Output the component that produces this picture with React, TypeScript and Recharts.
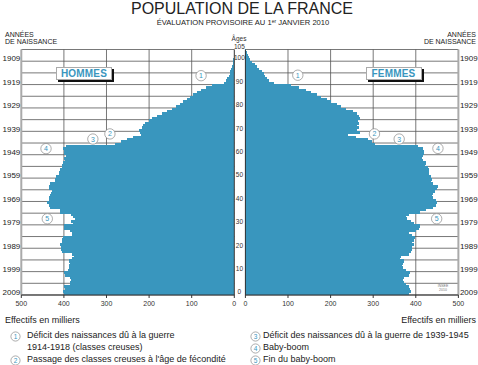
import { BarChart, Bar, XAxis, YAxis, CartesianGrid, ReferenceLine, ReferenceDot } from 'recharts';

// effectifs en milliers, par âge révolu (0 à 104 ans) au 1er janvier 2010
const hommes = [
  400, 401, 398, 400, 386, 385, 384, 386, 397, 399,
  390, 388, 387, 386, 388, 380, 376, 382, 405, 407,
  406, 408, 405, 404, 402, 382, 380, 385, 400, 400,
  378, 383, 375, 378, 383, 408, 410, 432, 435, 440,
  436, 435, 433, 430, 428, 434, 436, 433, 422, 420,
  418, 412, 411, 410, 405, 405, 403, 398, 400, 395,
  400, 399, 402, 396, 280, 265, 252, 238, 218, 222,
  224, 216, 214, 210, 200, 194, 182, 170, 157, 147,
  137, 127, 120, 112, 104, 96, 88, 77, 66, 52,
  25, 20, 16, 13, 11, 9, 7, 5, 4, 3,
  2, 1.5, 1, 0.6, 0.4,
];

const femmes = [
  385, 388, 387, 385, 378, 372, 370, 372, 384, 386,
  378, 370, 368, 370, 372, 362, 365, 385, 388, 390,
  392, 395, 390, 396, 398, 390, 385, 400, 408, 410,
  395, 388, 380, 378, 385, 410, 425, 440, 448, 450,
  448, 440, 438, 440, 445, 450, 452, 440, 435, 437,
  435, 432, 430, 430, 428, 422, 425, 418, 415, 418,
  420, 420, 418, 405, 305, 298, 288, 260, 242, 268,
  262, 267, 262, 267, 264, 268, 267, 262, 253, 237,
  225, 214, 202, 192, 178, 167, 155, 143, 127, 108,
  66, 55, 51, 47, 43, 38, 33, 28, 22, 16,
  11, 8, 5, 3, 2,
];

const xTicks = [0, 100, 200, 300, 400, 500];
const gridX = [100, 200, 300, 400];
const gridAges = [0, 5, 10, 15, 20, 25, 30, 35, 40, 45, 50, 55, 60, 65, 70, 75, 80, 85, 90, 95, 100, 105];
const yearTicks = [0, 10, 20, 30, 40, 50, 60, 70, 80, 90, 100];
const ageTicks = [0, 10, 20, 30, 40, 50, 60, 70, 80, 90, 100, 105];

// repères numérotés (valeur, âge)
const notesHommes = [
  { n: '1', value: 78, age: 93.8 },
  { n: '2', value: 292, age: 68.9 },
  { n: '3', value: 332, age: 66.7 },
  { n: '4', value: 442, age: 62.6 },
  { n: '5', value: 439, age: 32.6 },
];
const notesFemmes = [
  { n: '1', value: 123, age: 94.0 },
  { n: '2', value: 303, age: 68.9 },
  { n: '3', value: 361, age: 66.7 },
  { n: '4', value: 452, age: 62.7 },
  { n: '5', value: 449, age: 32.6 },
];

const legende = [
  { n: '1', lines: ['Déficit des naissances dû à la guerre', '1914-1918 (classes creuses)'] },
  { n: '2', lines: ['Passage des classes creuses à l\'âge de fécondité'] },
  { n: '3', lines: ['Déficit des naissances dû à la guerre de 1939-1945'] },
  { n: '4', lines: ['Baby-boom'] },
  { n: '5', lines: ['Fin du baby-boom'] },
];

const FONT = '"Liberation Sans", Arial, Helvetica, sans-serif';
const BLUE = '#3996be';
const GRID = '#555';

const CHART_H = 320;
const TOP = 49.5;
const X_AXIS_H = 25;
// just under one year band: recharts keeps a fractional barSize only when it is below the band
const BAR_H = (CHART_H - TOP - X_AXIS_H) / 105 - 0.01;

const menRows = hommes.map((value, age) => ({ age, mid: age + 0.5, value }));
const womenRows = femmes.map((value, age) => ({ age, mid: age + 0.5, value }));

// plain rect, slightly overlapping its neighbours so no light seams appear
function AgeBar(p: any) {
  const x = Math.min(p.x, p.x + p.width);
  const w = Math.abs(p.width);
  const y = Math.min(p.y, p.y + p.height);
  const h = Math.abs(p.height);
  if (!w) return <g />;
  return <rect x={x} y={y - 0.45} width={w} height={h + 0.9} fill={BLUE} shapeRendering="crispEdges" />;
}

function YearTick({ x, y, payload, side }: any) {
  return (
    <text
      x={side === 'left' ? x - 1 : x + 1.5}
      y={y - 2.5}
      dy="0.35em"
      textAnchor={side === 'left' ? 'end' : 'start'}
      fontSize={8}
      fontFamily={FONT}
      fill="#222"
    >
      {2009 - payload.value}
    </text>
  );
}

function AgeTick({ x, y, payload }: any) {
  return (
    <text x={x - 6} y={y - 3} dy="0.35em" textAnchor="middle" fontSize={6.5} fontFamily={FONT} fill="#333">
      {payload.value}
    </text>
  );
}

function NoteMark({ cx, cy, n }: any) {
  return (
    <g>
      <circle cx={cx} cy={cy} r={5.2} fill="#fff" stroke="#8a8a8a" strokeWidth={0.7} />
      <text x={cx} y={cy} dy="0.36em" textAnchor="middle" fontSize={7} fontFamily={FONT} fill={BLUE}>
        {n}
      </text>
    </g>
  );
}

function LegendCircle({ n }: { n: string }) {
  return (
    <svg width={11} height={11} style={{ position: 'absolute', left: 0, top: 0 }}>
      <circle cx={5.5} cy={5.5} r={4.6} fill="#fff" stroke="#8a8a8a" strokeWidth={0.7} />
      <text x={5.5} y={5.5} dy="0.36em" textAnchor="middle" fontSize={6.5} fontFamily={FONT} fill={BLUE}>
        {n}
      </text>
    </svg>
  );
}

function SexBox({ label, left }: { label: string; left: number }) {
  return (
    <div
      style={{
        position: 'absolute',
        left,
        top: 66.5,
        width: 56,
        height: 13,
        background: '#fff',
        border: '0.7px solid #aaa',
        boxShadow: '2px 2px 0 #111',
        boxSizing: 'border-box',
        color: BLUE,
        fontWeight: 'bold',
        fontSize: 10,
        lineHeight: '12px',
        textAlign: 'center',
        letterSpacing: 0.2,
      }}
    >
      {label}
    </div>
  );
}

const axisTick = { fontSize: 7, fill: '#333', fontFamily: FONT };

export default function App() {
  return (
    <div
      style={{
        position: 'absolute',
        left: 0,
        top: 0,
        width: 478,
        height: 365,
        background: '#fff',
        fontFamily: FONT,
        color: '#222',
        overflow: 'hidden',
      }}
    >
      <div style={{ position: 'absolute', left: 0, top: 1, width: 484, textAlign: 'center', fontSize: 16, lineHeight: '16px' }}>
        POPULATION DE LA FRANCE
      </div>
      <div style={{ position: 'absolute', left: 0, top: 18.6, width: 486, textAlign: 'center', fontSize: 7.6, lineHeight: '7.6px' }}>
        ÉVALUATION PROVISOIRE AU 1<sup style={{ fontSize: 5, verticalAlign: 'top', lineHeight: '5px' }}>er</sup> JANVIER 2010
      </div>
      <div style={{ position: 'absolute', left: 5, top: 30.8, fontSize: 7, lineHeight: '7.6px' }}>
        ANNÉES<br />DE NAISSANCE
      </div>
      <div style={{ position: 'absolute', right: 2, top: 30.8, fontSize: 7, lineHeight: '7.6px', textAlign: 'right' }}>
        ANNÉES<br />DE NAISSANCE
      </div>
      <div style={{ position: 'absolute', left: 220, width: 38, top: 36, fontSize: 6.5, lineHeight: '6.5px', textAlign: 'center', color: '#333' }}>
        Âges
      </div>

      <div style={{ position: 'absolute', left: 0, top: 0 }}>
        <BarChart
          width={240.3}
          height={CHART_H}
          layout="vertical"
          data={menRows}
          margin={{ top: TOP, right: 6, bottom: 0, left: 0 }}
          barCategoryGap={0}
        >
          <CartesianGrid stroke={GRID} strokeWidth={0.8} horizontalValues={gridAges} verticalValues={gridX} />
          <XAxis
            type="number"
            domain={[0, 500]}
            ticks={xTicks}
            interval={0}
            reversed
            height={X_AXIS_H}
            tickSize={3}
            tickMargin={3}
            stroke="#333"
            tick={axisTick}
          />
          <YAxis
            type="number"
            dataKey="mid"
            domain={[0, 105]}
            reversed
            ticks={yearTicks}
            interval={0}
            width={21.3}
            tickSize={0}
            tickMargin={0}
            tickLine={false}
            axisLine={false}
            tick={(p: any) => <YearTick {...p} side="left" />}
          />
          <Bar dataKey="value" barSize={BAR_H} fill={BLUE} shape={AgeBar} isAnimationActive={false} />
          <ReferenceLine x={500} stroke="#aaa" strokeWidth={2} />
          <ReferenceLine x={0} stroke="#333" strokeWidth={1} />
          {notesHommes.map((d) => (
            <ReferenceDot key={d.n} x={d.value} y={d.age} r={5} shape={(p: any) => <NoteMark cx={p.cx} cy={p.cy} n={d.n} />} />
          ))}
        </BarChart>
      </div>

      <div style={{ position: 'absolute', left: 234.3, top: 0 }}>
        <BarChart
          width={243.7}
          height={CHART_H}
          layout="vertical"
          data={womenRows}
          margin={{ top: TOP, right: 0, bottom: 0, left: 0 }}
          barCategoryGap={0}
        >
          <CartesianGrid yAxisId="age" stroke={GRID} strokeWidth={0.8} horizontalValues={gridAges} verticalValues={gridX} />
          <XAxis
            type="number"
            domain={[0, 500]}
            ticks={xTicks}
            interval={0}
            height={X_AXIS_H}
            tickSize={3}
            tickMargin={3}
            stroke="#333"
            tick={axisTick}
          />
          <YAxis
            yAxisId="age"
            type="number"
            dataKey="mid"
            domain={[0, 105]}
            reversed
            ticks={ageTicks}
            interval={0}
            width={11.4}
            tickSize={0}
            tickMargin={0}
            tickLine={false}
            axisLine={false}
            tick={(p: any) => <AgeTick {...p} />}
          />
          <YAxis
            yAxisId="year"
            orientation="right"
            type="number"
            dataKey="mid"
            domain={[0, 105]}
            reversed
            ticks={yearTicks}
            interval={0}
            width={19.3}
            tickSize={0}
            tickMargin={0}
            tickLine={false}
            axisLine={false}
            tick={(p: any) => <YearTick {...p} side="right" />}
          />
          <Bar yAxisId="age" dataKey="value" barSize={BAR_H} fill={BLUE} shape={AgeBar} isAnimationActive={false} />
          <ReferenceLine yAxisId="age" x={500} stroke="#aaa" strokeWidth={2} />
          <ReferenceLine yAxisId="age" x={0} stroke="#333" strokeWidth={1} />
          {notesFemmes.map((d) => (
            <ReferenceDot
              key={d.n}
              yAxisId="age"
              x={d.value}
              y={d.age}
              r={5}
              shape={(p: any) => <NoteMark cx={p.cx} cy={p.cy} n={d.n} />}
            />
          ))}
        </BarChart>
      </div>

      <SexBox label="HOMMES" left={56} />
      <SexBox label="FEMMES" left={365.5} />

      <div style={{ position: 'absolute', left: 436, top: 285, fontSize: 3.5, lineHeight: '3.6px', color: '#777', textAlign: 'center', width: 14 }}>
        INSEE<br />2010
      </div>

      <div style={{ position: 'absolute', left: 5, top: 315.5, fontSize: 9, lineHeight: '9px' }}>Effectifs en milliers</div>
      <div style={{ position: 'absolute', right: 2, top: 315.5, fontSize: 9, lineHeight: '9px' }}>Effectifs en milliers</div>

      <div style={{ position: 'absolute', left: 10, top: 330, fontSize: 9, lineHeight: '11.5px' }}>
        {legende.slice(0, 2).map((item) => (
          <div key={item.n} style={{ position: 'relative', paddingLeft: 17, marginBottom: 1 }}>
            <div style={{ position: 'absolute', left: 0, top: 0.5 }}>
              <LegendCircle n={item.n} />
            </div>
            {item.lines.map((l) => (
              <div key={l}>{l}</div>
            ))}
          </div>
        ))}
      </div>
      <div style={{ position: 'absolute', left: 250, top: 330, fontSize: 9, lineHeight: '11.5px' }}>
        {legende.slice(2).map((item) => (
          <div key={item.n} style={{ position: 'relative', paddingLeft: 13, marginBottom: 0.5 }}>
            <div style={{ position: 'absolute', left: 0, top: 0.5 }}>
              <LegendCircle n={item.n} />
            </div>
            {item.lines.map((l) => (
              <div key={l}>{l}</div>
            ))}
          </div>
        ))}
      </div>
    </div>
  );
}
